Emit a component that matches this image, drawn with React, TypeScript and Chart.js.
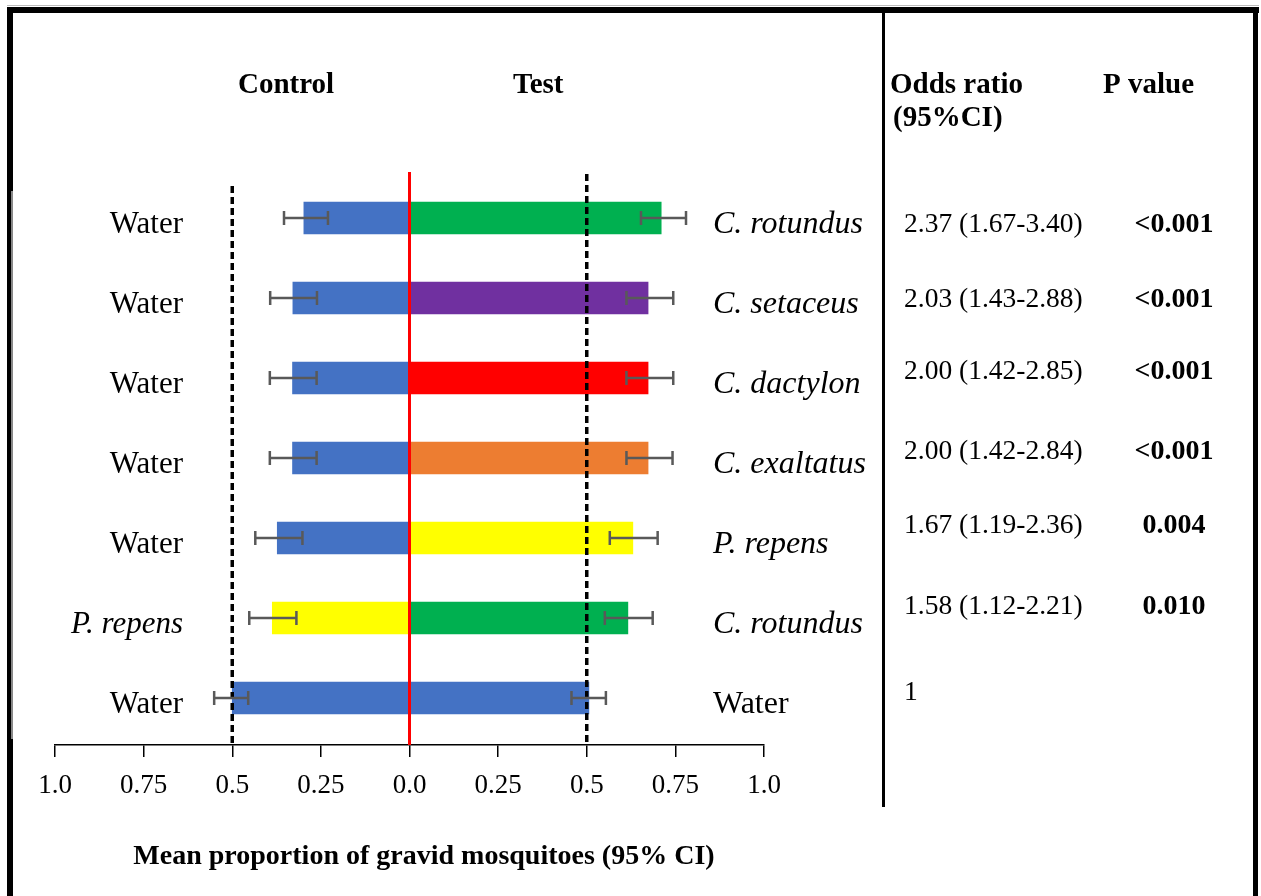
import React, { useEffect, useRef } from "react";
import { Chart, registerables } from "chart.js";

Chart.register(...registerables);

// ---- data ----
const controlLabels = ["Water", "Water", "Water", "Water", "Water", "P. repens", "Water"];
const controlItalic = [false, false, false, false, false, true, false];
const testLabels = ["C. rotundus", "C. setaceus", "C. dactylon", "C. exaltatus", "P. repens", "C. rotundus", "Water"];
const testItalic = [true, true, true, true, true, true, false];

const controlMean = [0.298, 0.329, 0.33, 0.33, 0.373, 0.387, 0.5];
const controlLow = [0.23, 0.261, 0.262, 0.262, 0.302, 0.319, 0.455];
const controlHigh = [0.354, 0.393, 0.394, 0.394, 0.435, 0.452, 0.551];

const testMean = [0.71, 0.673, 0.673, 0.673, 0.63, 0.616, 0.506];
const testLow = [0.653, 0.612, 0.612, 0.612, 0.565, 0.551, 0.457];
const testHigh = [0.78, 0.744, 0.744, 0.742, 0.7, 0.686, 0.554];

const controlColors = ["#4472C4", "#4472C4", "#4472C4", "#4472C4", "#4472C4", "#FFFF00", "#4472C4"];
const testColors = ["#00B050", "#7030A0", "#FF0000", "#ED7D31", "#FFFF00", "#00B050", "#4472C4"];

const oddsRatios = ["2.37 (1.67-3.40)", "2.03 (1.43-2.88)", "2.00 (1.42-2.85)", "2.00 (1.42-2.84)", "1.67 (1.19-2.36)", "1.58 (1.12-2.21)", "1"];
const pValues = ["<0.001", "<0.001", "<0.001", "<0.001", "0.004", "0.010", ""];

const tickValues = [-1, -0.75, -0.5, -0.25, 0, 0.25, 0.5, 0.75, 1];
const tickLabels = ["1.0", "0.75", "0.5", "0.25", "0.0", "0.25", "0.5", "0.75", "1.0"];

const axisTitle = "Mean proportion of gravid mosquitoes (95% CI)";

// ---- layout (pixels, separate from data) ----
const W = 1261;
const H = 896;
const orBaselineOffsets = [14, 9, 1, 1, -5, -4, 2];
const SERIF = "'Liberation Serif', 'Times New Roman', serif";

const overlayPlugin = {
  id: "overlay",
  afterDatasetsDraw(chart: any) {
    const ctx = chart.ctx;
    const xs = chart.scales.x;
    const ys = chart.scales.y;
    const area = chart.chartArea;
    ctx.save();

    // red zero line
    ctx.strokeStyle = "#FF0000";
    ctx.lineWidth = 3;
    ctx.beginPath();
    ctx.moveTo(xs.getPixelForValue(0), area.top - 6);
    ctx.lineTo(xs.getPixelForValue(0), area.bottom);
    ctx.stroke();

    // dashed 0.5 lines
    ctx.strokeStyle = "#000";
    ctx.lineWidth = 3.5;
    ctx.setLineDash([7, 4]);
    ctx.beginPath();
    ctx.moveTo(xs.getPixelForValue(-0.5), area.top + 8);
    ctx.lineTo(xs.getPixelForValue(-0.5), area.bottom);
    ctx.moveTo(xs.getPixelForValue(0.5), area.top - 4);
    ctx.lineTo(xs.getPixelForValue(0.5), area.bottom);
    ctx.stroke();
    ctx.setLineDash([]);

    // error bars
    ctx.strokeStyle = "#595959";
    ctx.lineWidth = 2.5;
    const cap = 7;
    const drawErr = (lo: number, hi: number, i: number) => {
      const y = ys.getPixelForValue(i);
      const x1 = xs.getPixelForValue(lo);
      const x2 = xs.getPixelForValue(hi);
      ctx.beginPath();
      ctx.moveTo(x1, y);
      ctx.lineTo(x2, y);
      ctx.moveTo(x1, y - cap);
      ctx.lineTo(x1, y + cap);
      ctx.moveTo(x2, y - cap);
      ctx.lineTo(x2, y + cap);
      ctx.stroke();
    };
    for (let i = 0; i < controlMean.length; i++) {
      drawErr(-controlHigh[i], -controlLow[i], i);
      drawErr(testLow[i], testHigh[i], i);
    }
    ctx.restore();
  },
  afterDraw(chart: any) {
    const ctx = chart.ctx;
    const ys = chart.scales.y;
    ctx.save();
    ctx.fillStyle = "#000";
    ctx.textBaseline = "alphabetic";

    // row labels
    for (let i = 0; i < controlLabels.length; i++) {
      const y = ys.getPixelForValue(i) + 15;
      ctx.textAlign = "right";
      ctx.font = `${controlItalic[i] ? "italic " : ""}31px ${SERIF}`;
      ctx.fillText(controlLabels[i], 183, y);
      ctx.textAlign = "left";
      ctx.font = `${testItalic[i] ? "italic " : ""}32px ${SERIF}`;
      ctx.fillText(testLabels[i], 713, y);

      const yo = ys.getPixelForValue(i) + orBaselineOffsets[i];
      ctx.textAlign = "left";
      ctx.font = `27.5px ${SERIF}`;
      ctx.fillText(oddsRatios[i], 904, yo);
      ctx.textAlign = "center";
      ctx.font = `bold 28px ${SERIF}`;
      if (pValues[i]) ctx.fillText(pValues[i], 1174, yo);
    }

    // headers
    ctx.textAlign = "left";
    ctx.font = `bold 29px ${SERIF}`;
    ctx.fillText("Control", 238, 93);
    ctx.fillText("Test", 513, 93);
    ctx.fillText("Odds ratio", 890, 93);
    ctx.fillText("(95%CI)", 893, 126);
    ctx.fillText("P value", 1103, 93);

    // axis title
    ctx.textAlign = "center";
    ctx.font = `bold 28px ${SERIF}`;
    ctx.fillText(axisTitle, 424, 864);

    // frame
    ctx.fillStyle = "#bbbbbb";
    ctx.fillRect(7, 5, 1252, 1);
    ctx.fillStyle = "#000";
    ctx.fillRect(7, 7, 1252, 6);
    ctx.fillRect(7, 7, 6, H - 7);
    ctx.fillRect(1253, 7, 5, H - 7);
    ctx.fillRect(882, 13, 3, 794);
    ctx.fillStyle = "#888888";
    ctx.fillRect(11, 191, 2, 548);
    ctx.restore();
  },
};

export default function App() {
  const ref = useRef<HTMLCanvasElement | null>(null);
  useEffect(() => {
    if (!ref.current) return;
    const chart = new Chart(ref.current, {
      type: "bar",
      data: {
        datasets: [
          {
            label: "Control",
            data: controlMean.map((v, i) => ({ x: -v, y: i })),
            backgroundColor: controlColors,
            barThickness: 32,
            grouped: false,
          } as any,
          {
            label: "Test",
            data: testMean.map((v, i) => ({ x: v, y: i })),
            backgroundColor: testColors,
            barThickness: 32,
            grouped: false,
          } as any,
        ],
      },
      options: {
        indexAxis: "y",
        responsive: false,
        animation: false,
        layout: { padding: { left: 55, right: W - 764, top: 178, bottom: 0 } },
        plugins: { legend: { display: false }, tooltip: { enabled: false } },
        scales: {
          x: {
            type: "linear",
            min: -1,
            max: 1,
            afterBuildTicks: (scale: any) => {
              scale.ticks = tickValues.map((v) => ({ value: v }));
            },
            afterFit: (scale: any) => {
              scale.height = H - 745;
            },
            ticks: {
              autoSkip: false,
              maxRotation: 0,
              padding: 13,
              color: "#000",
              font: { family: SERIF, size: 27 },
              callback: (_v: any, i: number) => tickLabels[i],
            },
            grid: { drawOnChartArea: false, drawTicks: true, tickLength: 12, color: "#000", lineWidth: 1.5 },
            border: { color: "#000", width: 1.5 },
          },
          y: {
            type: "linear",
            display: false,
            reverse: true,
            offset: false,
            grace: 0,
            min: -0.5,
            max: 6.5875,
          },
        },
      } as any,
      plugins: [overlayPlugin],
    });
    return () => chart.destroy();
  }, []);
  return (
    <div style={{ position: "absolute", left: 0, top: 0, width: W, height: H, background: "#fff" }}>
      <canvas ref={ref} width={W} height={H} style={{ width: W, height: H, display: "block" }} />
    </div>
  );
}
